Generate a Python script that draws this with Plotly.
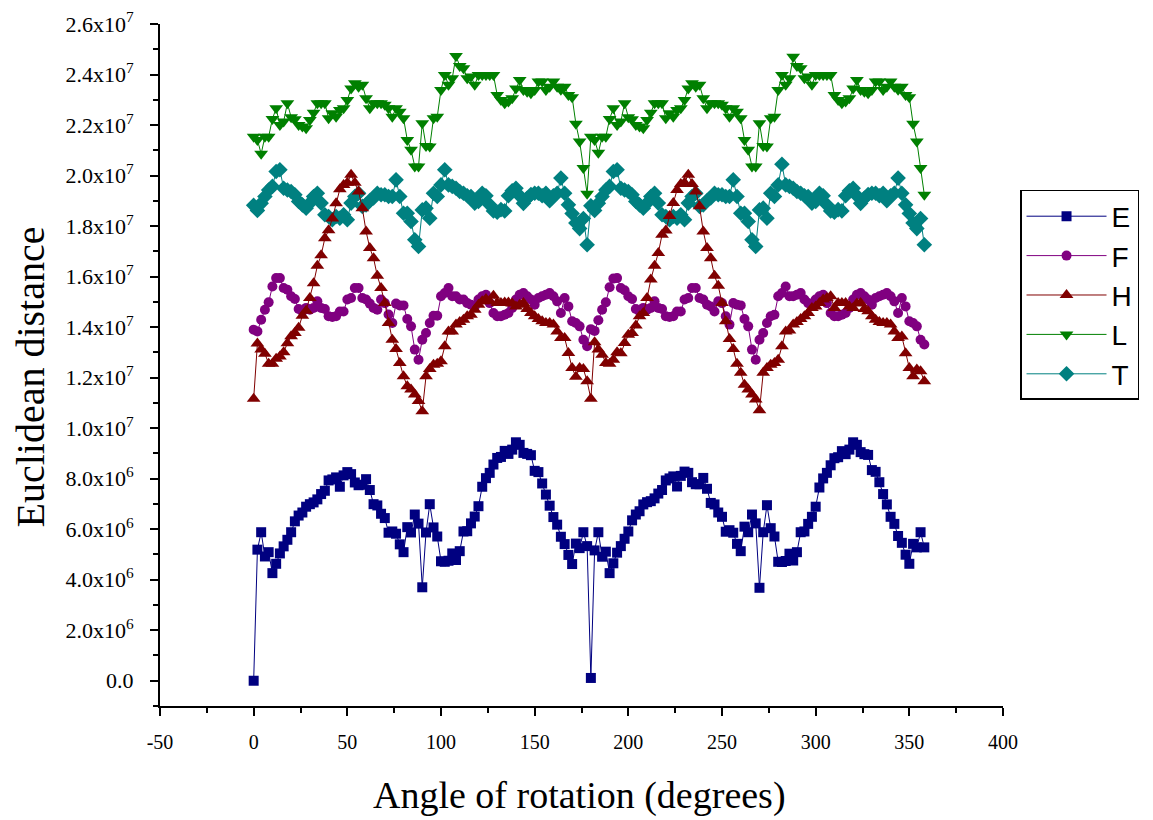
import plotly.graph_objects as go

# angles 0..358 step 2 (two halves of 90 points each)
angles_A = list(range(0, 180, 2))
angles_B = list(range(180, 360, 2))

# values in units of 1e6
E_A = [0.0, 5.19, 5.88, 4.92, 5.09, 4.26, 4.63, 5.04, 5.32, 5.58,
       5.88, 6.31, 6.54, 6.66, 6.89, 6.99, 7.06, 7.18, 7.39, 7.52,
       7.93, 7.97, 8.05, 7.68, 8.13, 8.26, 8.18, 7.85, 7.74, 7.76,
       7.98, 7.55, 6.99, 6.94, 6.61, 6.44, 5.86, 5.91, 5.82, 5.40,
       5.09, 6.08, 5.87, 6.58, 6.22, 3.70, 5.87, 6.99, 6.07, 5.71,
       4.73, 4.71, 4.75, 5.04, 4.78, 5.13, 5.91, 5.92, 6.23, 6.50,
       6.91, 7.68, 8.02, 8.23, 8.56, 8.82, 8.86, 9.10, 8.98, 9.15,
       9.44, 9.34, 9.02, 8.98, 8.93, 8.31, 8.26, 7.81, 7.37, 6.93,
       6.48, 6.18, 5.70, 5.41, 4.98, 4.62, 5.43, 5.25, 5.88, 5.33]
E_B = [0.11, 5.16, 5.88, 4.91, 5.11, 4.26, 4.65, 5.07, 5.33, 5.62,
       5.91, 6.35, 6.58, 6.71, 6.98, 7.07, 7.11, 7.22, 7.41, 7.55,
       7.93, 8.01, 8.09, 7.69, 8.11, 8.28, 8.23, 7.86, 7.78, 7.78,
       8.03, 7.60, 7.04, 6.98, 6.66, 6.49, 5.90, 5.96, 5.86, 5.42,
       5.13, 6.10, 5.88, 6.58, 6.23, 3.68, 5.88, 6.95, 6.04, 5.71,
       4.71, 4.70, 4.74, 5.03, 4.76, 5.09, 5.88, 5.91, 6.21, 6.49,
       6.89, 7.65, 8.01, 8.23, 8.53, 8.81, 8.85, 9.09, 8.97, 9.15,
       9.44, 9.34, 9.05, 8.97, 8.94, 8.34, 8.27, 7.86, 7.39, 6.98,
       6.49, 6.21, 5.73, 5.46, 4.99, 4.63, 5.42, 5.28, 5.88, 5.28]

F_A = [13.90, 13.83, 14.29, 14.69, 14.98, 15.61, 15.94, 15.94, 15.55, 15.48,
       15.22, 15.11, 14.72, 14.62, 14.76, 14.69, 14.76, 15.02, 14.76, 14.72,
       14.43, 14.40, 14.43, 14.62, 14.62, 15.09, 15.15, 15.55, 15.55, 15.15,
       15.09, 14.93, 14.76, 14.69, 15.09, 14.95, 14.50, 14.16, 14.93, 14.86,
       14.86, 14.32, 14.03, 13.11, 12.71, 13.50, 13.77, 14.16, 14.45, 14.45,
       15.22, 15.35, 15.55, 15.22, 15.22, 15.09, 15.09, 14.95, 14.89, 14.82,
       15.09, 15.22, 15.28, 14.95, 14.56, 14.43, 14.43, 14.49, 14.56, 14.76,
       15.09, 15.28, 15.35, 15.22, 15.09, 14.89, 15.15, 15.22, 15.28, 15.35,
       15.22, 15.02, 14.56, 15.15, 14.82, 14.23, 14.16, 14.03, 13.50, 13.24]
F_B = [13.92, 13.85, 14.27, 14.69, 14.98, 15.58, 15.92, 15.94, 15.55, 15.46,
       15.22, 15.11, 14.72, 14.62, 14.76, 14.69, 14.76, 15.02, 14.76, 14.72,
       14.43, 14.40, 14.43, 14.62, 14.62, 15.09, 15.15, 15.55, 15.55, 15.15,
       15.09, 14.89, 14.82, 14.62, 15.02, 14.95, 14.43, 14.10, 14.95, 14.89,
       14.86, 14.32, 14.03, 13.11, 12.71, 13.50, 13.77, 14.16, 14.43, 14.49,
       15.22, 15.35, 15.61, 15.22, 15.22, 15.28, 15.35, 15.09, 14.95, 14.89,
       15.09, 15.22, 15.28, 14.95, 14.56, 14.43, 14.43, 14.49, 14.56, 14.76,
       15.09, 15.28, 15.35, 15.22, 15.09, 14.89, 15.15, 15.22, 15.28, 15.35,
       15.22, 15.02, 14.56, 15.15, 14.82, 14.23, 14.16, 14.03, 13.50, 13.31]

H_A = [11.16, 13.35, 13.11, 12.95, 12.55, 12.55, 12.75, 12.84, 13.00, 13.36,
       13.64, 13.77, 13.97, 14.45, 14.65, 15.15, 15.74, 16.43, 16.84, 17.52,
       17.83, 18.30, 18.90, 19.46, 19.63, 19.72, 20.03, 19.72, 19.37, 18.71,
       17.79, 17.13, 16.73, 16.03, 15.55, 14.95, 14.16, 13.50, 13.13, 12.58,
       12.05, 11.66, 11.53, 11.33, 11.07, 10.67, 12.05, 12.34, 12.51, 12.55,
       12.65, 13.24, 13.83, 13.83, 14.10, 14.20, 14.29, 14.43, 14.49, 14.69,
       14.89, 15.02, 15.11, 15.02, 15.24, 14.95, 14.95, 14.97, 14.97, 14.93,
       14.82, 14.89, 14.95, 14.72, 14.56, 14.43, 14.32, 14.23, 14.16, 14.16,
       14.10, 13.83, 13.57, 13.57, 12.98, 12.38, 12.03, 12.38, 12.34, 11.86]
H_B = [11.16, 13.40, 13.11, 12.91, 12.58, 12.55, 12.71, 13.00, 12.97, 13.37,
       13.70, 13.77, 14.06, 14.43, 14.56, 15.15, 15.88, 16.43, 16.93, 17.66,
       17.82, 18.40, 18.91, 19.43, 19.67, 19.72, 20.03, 19.67, 19.37, 18.78,
       17.79, 17.13, 16.73, 16.03, 15.64, 14.95, 14.23, 13.53, 13.13, 12.55,
       12.19, 11.72, 11.53, 11.33, 11.13, 10.71, 12.19, 12.38, 12.51, 12.58,
       12.71, 13.24, 13.83, 13.87, 14.10, 14.20, 14.32, 14.43, 14.56, 14.76,
       14.82, 14.95, 15.09, 15.15, 15.22, 14.76, 14.95, 14.95, 14.95, 14.82,
       14.76, 14.93, 14.95, 14.72, 14.63, 14.43, 14.29, 14.20, 14.16, 14.16,
       14.10, 13.83, 13.57, 13.63, 12.97, 12.38, 12.05, 12.32, 12.25, 11.86]

L_A = [21.54, 21.41, 20.86, 21.54, 21.54, 22.24, 22.66, 22.00, 22.14, 22.86,
       22.31, 22.23, 22.00, 21.94, 21.87, 22.20, 22.49, 22.86, 22.86, 22.86,
       22.27, 22.47, 22.33, 22.60, 22.66, 22.99, 23.45, 23.65, 23.52, 23.59,
       23.06, 22.66, 22.86, 22.86, 22.86, 22.80, 22.66, 22.33, 22.66, 22.53,
       22.27, 21.41, 21.02, 20.36, 20.36, 22.07, 21.17, 21.15, 22.27, 22.33,
       23.39, 23.98, 23.59, 23.85, 24.73, 24.34, 24.25, 23.85, 23.92, 23.59,
       23.98, 23.98, 23.98, 23.98, 23.98, 23.19, 22.99, 22.86, 22.93, 23.06,
       23.45, 23.78, 23.39, 23.32, 23.26, 23.39, 23.72, 23.72, 23.39, 23.52,
       23.72, 23.52, 23.40, 23.52, 23.19, 23.10, 22.05, 21.35, 20.30, 19.28]
L_B = [21.54, 21.41, 20.90, 21.54, 21.54, 22.24, 22.66, 22.00, 22.14, 22.86,
       22.31, 22.23, 22.00, 21.94, 21.87, 22.20, 22.49, 22.86, 22.86, 22.86,
       22.27, 22.47, 22.33, 22.60, 22.66, 22.99, 23.45, 23.65, 23.52, 23.59,
       23.06, 22.66, 22.86, 22.86, 22.86, 22.80, 22.66, 22.33, 22.66, 22.53,
       22.27, 21.41, 21.02, 20.36, 20.36, 22.07, 21.17, 21.15, 22.27, 22.33,
       23.39, 23.98, 23.59, 23.85, 24.70, 24.34, 24.25, 23.85, 23.92, 23.59,
       23.98, 23.98, 23.98, 23.98, 23.98, 23.19, 22.99, 22.86, 22.93, 23.06,
       23.45, 23.78, 23.39, 23.32, 23.26, 23.39, 23.72, 23.72, 23.39, 23.52,
       23.72, 23.52, 23.40, 23.52, 23.19, 23.10, 22.05, 21.35, 20.30, 19.24]

T_A = [18.82, 18.62, 18.90, 19.17, 19.43, 19.57, 20.16, 20.23, 19.50, 19.43,
       19.37, 19.24, 18.97, 18.84, 18.71, 18.91, 19.17, 19.30, 18.91, 18.45,
       18.38, 18.25, 18.38, 18.31, 18.45, 18.25, 18.91, 19.17, 19.30, 18.78,
       18.84, 19.01, 19.11, 19.30, 19.24, 19.24, 19.17, 19.17, 19.83, 19.17,
       18.51, 18.51, 18.18, 17.46, 17.19, 18.64, 18.71, 18.31, 19.30, 19.17,
       19.63, 20.23, 19.63, 19.57, 19.50, 19.37, 19.30, 19.20, 19.17, 18.91,
       18.97, 19.30, 19.20, 18.84, 18.60, 18.55, 18.65, 18.60, 19.20, 19.40,
       19.50, 19.20, 18.90, 19.10, 19.25, 19.30, 19.30, 19.20, 19.30, 19.00,
       19.20, 19.30, 19.90, 19.30, 18.84, 18.50, 18.12, 17.90, 18.30, 17.26]
T_B = [18.80, 18.62, 18.90, 19.17, 19.43, 19.57, 20.16, 20.23, 19.50, 19.43,
       19.37, 19.24, 18.97, 18.84, 18.71, 18.91, 19.17, 19.30, 18.91, 18.45,
       18.38, 18.25, 18.38, 18.31, 18.45, 18.25, 18.91, 19.17, 19.30, 18.78,
       18.84, 19.01, 19.11, 19.30, 19.24, 19.24, 19.17, 19.17, 19.83, 19.17,
       18.51, 18.51, 18.18, 17.46, 17.19, 18.64, 18.71, 18.31, 19.30, 19.17,
       19.63, 20.45, 19.63, 19.57, 19.50, 19.37, 19.30, 19.20, 19.17, 18.91,
       18.97, 19.30, 19.20, 18.84, 18.60, 18.55, 18.65, 18.60, 19.20, 19.40,
       19.50, 19.20, 18.90, 19.10, 19.25, 19.30, 19.30, 19.20, 19.30, 19.00,
       19.20, 19.30, 19.90, 19.30, 18.84, 18.50, 18.12, 17.90, 18.30, 17.26]

x_tick_vals = [-50, 0, 50, 100, 150, 200, 250, 300, 350, 400]
x_tick_text = ["-50", "0", "50", "100", "150", "200", "250", "300", "350", "400"]
y_tick_vals = [0, 2e6, 4e6, 6e6, 8e6, 1e7, 1.2e7, 1.4e7, 1.6e7, 1.8e7, 2e7, 2.2e7, 2.4e7, 2.6e7]
y_tick_text = ["0.0", "2.0x10<sup>6</sup>", "4.0x10<sup>6</sup>", "6.0x10<sup>6</sup>",
               "8.0x10<sup>6</sup>", "1.0x10<sup>7</sup>", "1.2x10<sup>7</sup>",
               "1.4x10<sup>7</sup>", "1.6x10<sup>7</sup>", "1.8x10<sup>7</sup>",
               "2.0x10<sup>7</sup>", "2.2x10<sup>7</sup>", "2.4x10<sup>7</sup>",
               "2.6x10<sup>7</sup>"]

angles = angles_A + angles_B
series = [
    ("E", E_A + E_B, "#000080", "square", 10, 1),
    ("F", F_A + F_B, "#800080", "circle", 10, 2),
    ("H", H_A + H_B, "#800000", "triangle-up", 12, 3),
    ("L", L_A + L_B, "#008000", "triangle-down", 12, 4),
    ("T", T_A + T_B, "#008080", "diamond", 12, 5),
]
draw_order = ["E", "F", "L", "T", "H"]
sdict = {s[0]: s for s in series}

fig = go.Figure()
for name in draw_order:
    n, vals, col, sym, size, rank = sdict[name]
    fig.add_trace(go.Scatter(
        x=angles, y=[v * 1e6 for v in vals], name=n, mode="lines+markers",
        line=dict(color=col, width=1),
        marker=dict(color=col, symbol=sym, size=size, line=dict(width=0)),
        legendrank=rank,
    ))

serif = "Liberation Serif"
fig.update_layout(
    width=1153, height=820,
    margin=dict(l=152, r=158, t=16, b=122, autoexpand=False),
    paper_bgcolor="white", plot_bgcolor="white",
    showlegend=True,
    legend=dict(x=1.0202, y=0.7566, xanchor="left", yanchor="top",
                bordercolor="black", borderwidth=1.5, bgcolor="white",
                font=dict(family="Liberation Sans", size=28, color="black"),
                itemwidth=80, tracegroupgap=0),
    xaxis=dict(range=[-50, 400], tickmode="array", tickvals=x_tick_vals, ticktext=x_tick_text,
               ticks="outside", ticklen=8, tickwidth=1.5, tickcolor="black",
               minor=dict(ticks="outside", ticklen=5, tickwidth=1.5, dtick=25, tick0=-50, tickcolor="black"),
               showline=True, linecolor="black", linewidth=2, showgrid=False, zeroline=False,
               automargin=False, ticklabelstandoff=9,
               tickfont=dict(family=serif, size=20, color="black")),
    yaxis=dict(range=[-1e6, 2.6e7], tickmode="array", tickvals=y_tick_vals, ticktext=y_tick_text,
               ticks="outside", ticklen=8, tickwidth=1.5, tickcolor="black",
               minor=dict(ticks="outside", ticklen=5, tickwidth=1.5, dtick=1e6, tick0=-1e6, tickcolor="black"),
               showline=True, linecolor="black", linewidth=2, showgrid=False, zeroline=False,
               automargin=False, ticklabelstandoff=12,
               tickfont=dict(family=serif, size=22, color="black")),
    annotations=[
        dict(text="Angle of rotation (degrees)", xref="paper", yref="paper",
             x=0.498, y=-0.1305, xanchor="center", yanchor="middle", showarrow=False,
             font=dict(family=serif, size=38, color="black")),
        dict(text="Euclidean distance", xref="paper", yref="paper",
             x=-0.1542, y=0.4817, xanchor="center", yanchor="middle", showarrow=False,
             textangle=-90, font=dict(family=serif, size=40, color="black")),
    ],
)
fig.write_html("out.html")
